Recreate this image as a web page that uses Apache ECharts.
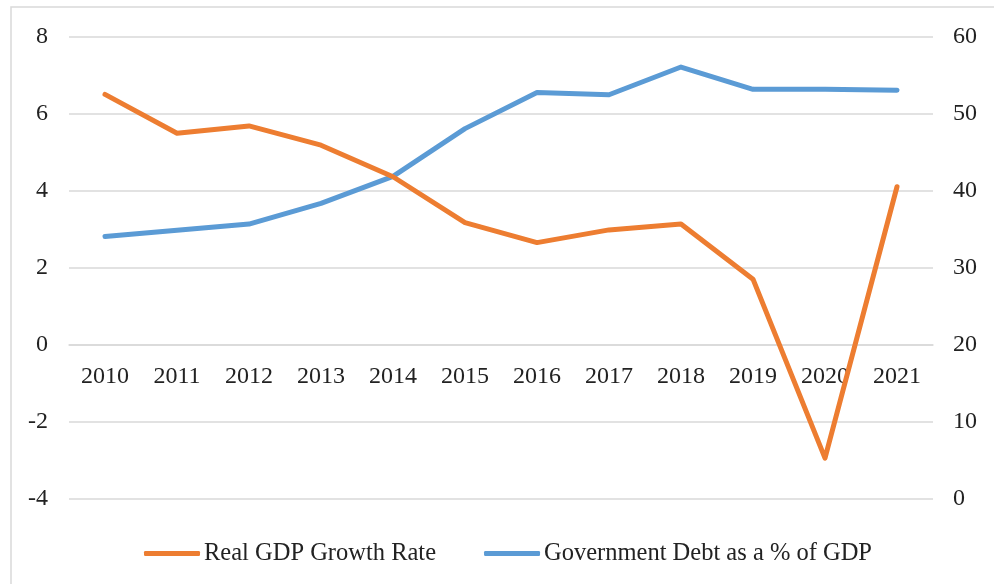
<!DOCTYPE html>
<html>
<head>
<meta charset="utf-8">
<script src="https://cdn.jsdelivr.net/npm/echarts@6/dist/echarts.min.js"></script>
<style>
html,body{margin:0;padding:0;background:#fff;}
#chart{width:994px;height:584px;}
</style>
</head>
<body>
<div id="chart"></div>
<script>
var years = ['2010','2011','2012','2013','2014','2015','2016','2017','2018','2019','2020','2021'];
var gdpGrowth = [6.51, 5.50, 5.69, 5.19, 4.37, 3.18, 2.66, 2.99, 3.14, 1.71, -2.94, 4.11];
var govDebt = [34.1, 34.9, 35.7, 38.4, 41.9, 48.1, 52.8, 52.5, 56.1, 53.2, 53.2, 53.1];
var leftTicks = {min: -4, max: 8, interval: 2};
var rightTicks = {min: 0, max: 60, interval: 10};

var FONT = '"Liberation Serif", "Times New Roman", serif';
var chart = echarts.init(document.getElementById('chart'), null, {renderer: 'canvas'});
var option = {
  animation: false,
  backgroundColor: '#fff',
  graphic: [{
    type: 'rect',
    shape: {x: 11, y: 7, width: 1000, height: 600},
    style: {fill: 'none', stroke: '#d9d9d9', lineWidth: 1.5},
    silent: true
  }],
  grid: {left: 69, right: 61, top: 37, bottom: 85, containLabel: false},
  legend: {
    top: 536,
    left: 139,
    itemGap: 48,
    itemWidth: 56,
    itemHeight: 5,
    icon: 'roundRect',
    textStyle: {fontFamily: FONT, fontSize: 24.5, color: '#222', padding: [0, 0, 0, -1]},
    data: ['Real GDP Growth Rate', 'Government Debt as a % of GDP']
  },
  xAxis: {
    type: 'category',
    data: years,
    boundaryGap: true,
    position: 'bottom',
    offset: 0,
    z: 0,
    axisLine: {show: true, onZero: false, lineStyle: {color: '#d9d9d9', width: 1.5}},
    axisTick: {show: false},
    axisLabel: {fontFamily: FONT, fontSize: 24, color: '#222', margin: 20}
  },
  yAxis: [{
    type: 'value',
    min: leftTicks.min, max: leftTicks.max, interval: leftTicks.interval,
    axisLine: {show: false},
    axisTick: {show: false},
    splitLine: {lineStyle: {color: '#d9d9d9', width: 1.5}},
    axisLabel: {fontFamily: FONT, fontSize: 24, color: '#222', margin: 21}
  }, {
    type: 'value',
    min: rightTicks.min, max: rightTicks.max, interval: rightTicks.interval,
    axisLine: {show: false},
    axisTick: {show: false},
    splitLine: {show: false},
    axisLabel: {fontFamily: FONT, fontSize: 24, color: '#222', margin: 20}
  }],
  series: [{
    name: 'Real GDP Growth Rate',
    type: 'line',
    yAxisIndex: 0,
    data: gdpGrowth,
    symbol: 'none',
    color: '#ED7D31',
    lineStyle: {width: 5, color: '#ED7D31', cap: 'round', join: 'round'},
    z: 3
  }, {
    name: 'Government Debt as a % of GDP',
    type: 'line',
    yAxisIndex: 1,
    data: govDebt,
    symbol: 'none',
    color: '#5B9BD5',
    lineStyle: {width: 5, color: '#5B9BD5', cap: 'round', join: 'round'},
    z: 2
  }]
};
chart.setOption(option);
// place the category axis on the zero line of the left axis
var yZero = chart.convertToPixel({yAxisIndex: 0}, 0);
var yBottom = chart.convertToPixel({yAxisIndex: 0}, leftTicks.min);
chart.setOption({xAxis: {offset: -(yBottom - yZero)}});
</script>
</body>
</html>
